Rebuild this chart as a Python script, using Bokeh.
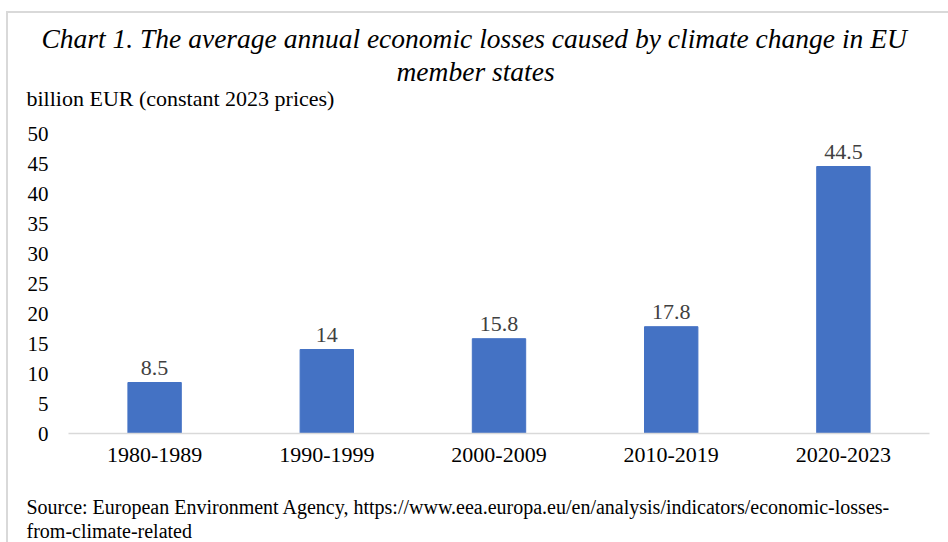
from bokeh.plotting import figure
from bokeh.models import ColumnDataSource, FixedTicker, Range1d, Title
from bokeh.core.properties import value
from bokeh.embed import file_html
from bokeh.resources import INLINE

periods = ["1980-1989", "1990-1999", "2000-2009", "2010-2019", "2020-2023"]
losses = [8.5, 14, 15.8, 17.8, 44.5]
loss_labels = ["8.5", "14", "15.8", "17.8", "44.5"]
y_ticks = [0, 5, 10, 15, 20, 25, 30, 35, 40, 45, 50]

title_line1 = "Chart 1. The average annual economic losses caused by climate change in EU"
title_line2 = "member states"
unit_text = "billion EUR (constant 2023 prices)"
source_line1 = "Source: European Environment Agency, https://www.eea.europa.eu/en/analysis/indicators/economic-losses-"
source_line2 = "from-climate-related"

FONT = "Liberation Serif"

src = ColumnDataSource(dict(period=periods, loss=losses, label=loss_labels))

p = figure(x_range=periods, y_range=Range1d(0, 50), width=948, height=542,
           output_backend="svg", toolbar_location=None, title_location=None,
           min_border_left=68, min_border_right=19, min_border_top=133, min_border_bottom=109)

p.vbar(x="period", top="loss", width=0.31, source=src, color="#4472C4")
p.text(x="period", y="loss", text="label", source=src, y_offset=-15,
       text_align="center", text_baseline="alphabetic",
       text_font=value(FONT), text_font_size="22px", text_color="#404040")

p.xgrid.visible = False
p.ygrid.visible = False
p.outline_line_color = None
p.background_fill_color = None
p.border_fill_color = None
p.styles = {"background": "linear-gradient(#d9d9d9,#d9d9d9) 6px 11px / 100% 2px no-repeat, "
                          "linear-gradient(#d9d9d9,#d9d9d9) 6px 11px / 2px 100% no-repeat, white"}

p.yaxis.ticker = FixedTicker(ticks=y_ticks)
p.yaxis.axis_line_color = None
p.yaxis.major_tick_line_color = None
p.yaxis.minor_tick_line_color = None
p.yaxis.major_tick_out = 0
p.yaxis.major_tick_in = 0
p.yaxis.major_label_standoff = 20
p.yaxis.major_label_text_font = FONT
p.yaxis.major_label_text_font_size = "21px"
p.yaxis.major_label_text_color = "#000000"

p.xaxis.axis_line_color = "#d9d9d9"
p.xaxis.axis_line_width = 1.5
p.xaxis.major_tick_line_color = None
p.xaxis.minor_tick_line_color = None
p.xaxis.major_tick_out = 0
p.xaxis.major_tick_in = 0
p.xaxis.major_label_standoff = 14
p.xaxis.major_label_text_font = FONT
p.xaxis.major_label_text_font_size = "22px"
p.xaxis.major_label_text_color = "#000000"

def ttl(txt, offset, size, standoff=0, style="normal"):
    return Title(text=txt, align="left", offset=offset, standoff=standoff,
                 text_font=FONT, text_font_size=size, text_font_style=style,
                 text_color="#000000")

# above: first added sits closest to the frame
p.add_layout(ttl(" ", 0, "1px", 20), "above")
p.add_layout(ttl(unit_text, -42, "22px"), "above")
p.add_layout(ttl(title_line2, 328, "27.5px", -7, "italic"), "above")
p.add_layout(ttl(title_line1, -27, "27.5px", 8, "italic"), "above")

# below: after the x axis
p.add_layout(ttl(" ", 0, "1px", 26), "below")
p.add_layout(ttl(source_line1, -42, "20px"), "below")
p.add_layout(ttl(source_line2, -42, "20px"), "below")

open("out.html", "w").write(file_html(p, INLINE))
